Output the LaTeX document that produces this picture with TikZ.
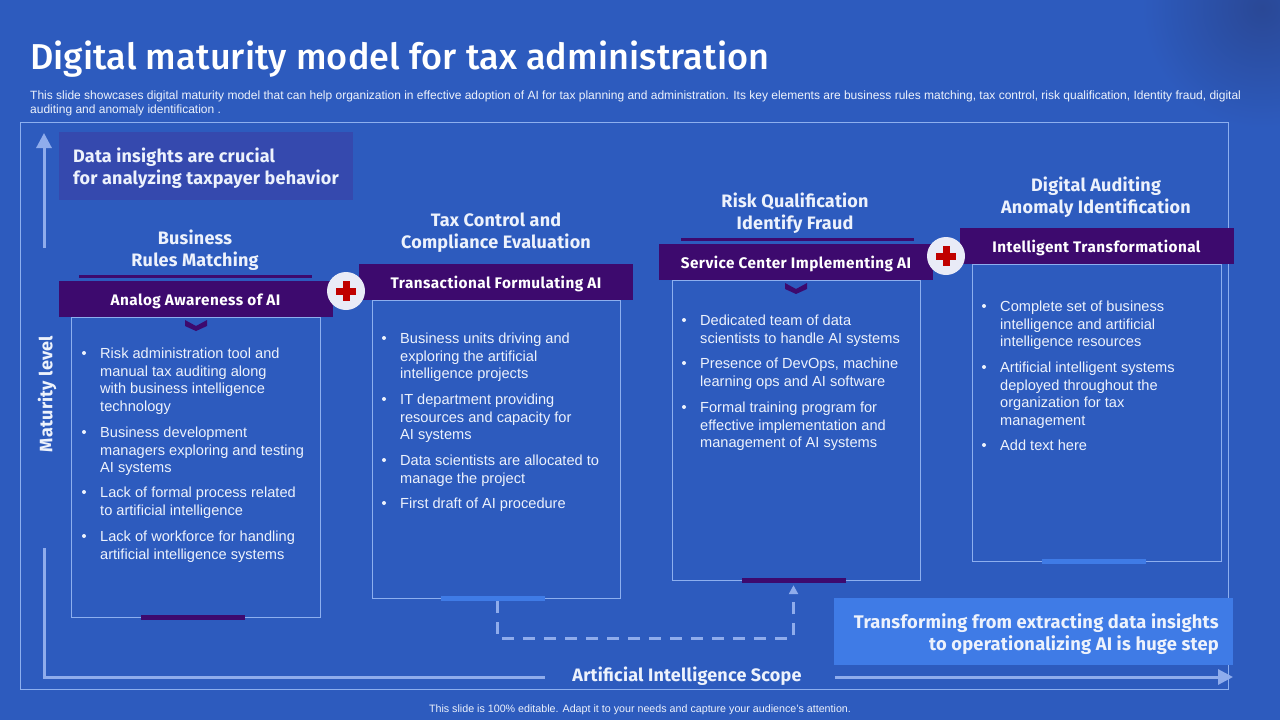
\documentclass[tikz,border=0pt]{standalone}
\usepackage{fontspec}
\setmainfont{Liberation Sans}
\newfontfamily\headfont[LetterSpace=1.2]{Fira Sans}
\newfontfamily\barfont[LetterSpace=3]{Fira Sans}
\newfontfamily\titlefont[LetterSpace=0.3,UprightFont={* Medium}]{Fira Sans}
\usepackage{xcolor}
\usepackage{tikz}
\usetikzlibrary{arrows.meta}
\usetikzlibrary{positioning}
\usetikzlibrary{calc}
\definecolor{slidebg}{HTML}{2D5BBE}
\definecolor{slidedark}{HTML}{2A4896}
\definecolor{panelline}{HTML}{8DAFEF}
\definecolor{axisline}{HTML}{8FACEC}
\definecolor{headpurple}{HTML}{3D0A6E}
\definecolor{lightblue}{HTML}{3F7BE6}
\definecolor{insightbg}{HTML}{3549AE}
\definecolor{palewhite}{HTML}{EDF2FC}
\definecolor{discfill}{HTML}{E9EBF7}
\definecolor{crossred}{HTML}{C00000}
\tikzset{
  panel/.style={draw=panelline,line width=0.8pt,inner sep=0pt},
  headbar/.style={fill=headpurple,text=white,minimum width=274pt,minimum height=36pt,inner sep=0pt,text height=13pt,text depth=0pt,font=\barfont\bfseries\fontsize{15.3}{17}\selectfont},
  stagetitle/.style={text=palewhite,align=center,inner sep=0pt,font=\headfont\bfseries\fontsize{18}{22}\selectfont},
  itemtext/.style={text=palewhite,align=left,anchor=north west,inner sep=0pt,font=\fontsize{14.6}{17.6}\selectfont},
  itemdot/.style={circle,fill=palewhite,minimum size=4pt,inner sep=0pt},
  footbar/.style={minimum width=104pt,minimum height=5pt,inner sep=0pt},
  plusdisc/.style={circle,fill=discfill,minimum size=38pt,inner sep=0pt},
  axis/.style={draw=axisline,line width=3pt},
  overline/.style={fill=headpurple,minimum width=233pt,minimum height=3pt,inner sep=0pt}
}
\newcommand{\pluscross}[1]{
  \fill[crossred] ($(#1)+(-3.5,-10)$) rectangle ($(#1)+(3.5,10)$);
  \fill[crossred] ($(#1)+(-10,-3.5)$) rectangle ($(#1)+(10,3.5)$);
}
\newcommand{\chevmark}[1]{
  \fill[headpurple] ($(#1)+(-11,-5)$) -- ($(#1)+(0,1)$) -- ($(#1)+(11,-5)$) -- ($(#1)+(11,1)$) -- ($(#1)+(0,6)$) -- ($(#1)+(-11,1)$) -- cycle;
}
\begin{document}
\begin{tikzpicture}[x=1pt,y=-1pt]
    \useasboundingbox[fill=slidebg] (0,0) rectangle (1280,720);

    \begin{scope}
        \clip (0,0) rectangle (1280,720);
        \shade[inner color=slidedark,outer color=slidebg] (1262,8) circle (120);
    \end{scope}

    \node[anchor=west,text=white,inner sep=0pt,font=\titlefont\fontsize{36}{40}\selectfont] (title) at (30,59) {Digital maturity model for tax administration};
    \node[anchor=north west,text=palewhite,align=left,inner sep=0pt,font=\fontsize{12}{14}\selectfont] (intro) at (30,91) {This slide showcases digital maturity model that can help organization in effective adoption of AI for tax planning and administration. Its key elements are business rules matching, tax control, risk qualification, Identity fraud, digital\\auditing and anomaly identification .};

    \node[panel,minimum width=1208.5pt,minimum height=567pt] (frame) at (624.5,406) {};

    % axes
    \coordinate (upfoot) at (44,248);
    \coordinate (uptip) at (44,133);
    \coordinate (corner) at (44,677);
    \coordinate (axtop) at (44,548);
    \coordinate (axleft) at (545,677);
    \coordinate (axright) at (835,677);
    \coordinate (axtip) at (1233,677);
    \draw[axis,-{Triangle[length=15pt,width=15pt]}] (upfoot) -- (uptip);
    \draw[axis] (axtop) -- (corner) -- (axleft);
    \draw[axis,-{Triangle[length=15pt,width=15pt]}] (axright) -- (axtip);
    \node[rotate=90,text=palewhite,inner sep=0pt,font=\headfont\bfseries\fontsize{18}{22}\selectfont] (ylabel) at (47,394) {Maturity level};
    \node[text=palewhite,inner sep=0pt,font=\headfont\bfseries\fontsize{18}{22}\selectfont] (xlabel) at (687,676) {Artificial Intelligence Scope};

    \node[fill=insightbg,minimum width=294pt,minimum height=68pt,inner sep=0pt] (insight) at (206,166) {};
    \node[anchor=west,text=palewhite,align=left,inner sep=0pt,font=\headfont\bfseries\fontsize{18}{22}\selectfont] (insighttext) at (73,168) {Data insights are crucial\\for analyzing taxpayer behavior};

    \node[fill=lightblue,minimum width=399pt,minimum height=67pt,inner sep=0pt] (callout) at (1033.5,631.5) {};
    \node[anchor=east,text=palewhite,align=right,inner sep=0pt,font=\headfont\bfseries\fontsize{18.3}{22}\selectfont] (callouttext) at (1219,634) {Transforming from extracting data insights\\to operationalizing AI is huge step};

    % stage boxes
    \node[panel,minimum width=249.5pt,minimum height=300pt] (box1) at (196,467) {};
    \node[panel,minimum width=247.5pt,minimum height=298pt] (box2) at (496.5,449) {};
    \node[panel,minimum width=248pt,minimum height=300pt] (box3) at (796.5,430) {};
    \node[panel,minimum width=248.5pt,minimum height=297pt] (box4) at (1096.75,412.5) {};

    \node[headbar] (head1) at (195.5,299) {Analog Awareness of AI};
    \node[headbar] (head2) at (496,282) {Transactional Formulating AI};
    \node[headbar] (head3) at (796,262) {Service Center Implementing AI};
    \node[headbar] (head4) at (1096.5,246) {Intelligent Transformational};

    \node[overline] (over1) at (195.5,276) {};
    \node[overline] (over3) at (797,239) {};

    \node[stagetitle] (title1) at (195,250) {Business\\Rules Matching};
    \node[stagetitle] (title2) at (496,233) {Tax Control and\\Compliance Evaluation};
    \node[stagetitle] (title3) at (795,213) {Risk Qualification\\Identify Fraud};
    \node[stagetitle] (title4) at (1096,197) {Digital Auditing\\Anomaly Identification};

    \coordinate (chev1) at (196,325);
    \coordinate (chev3) at (796,288);
    \chevmark{chev1}
    \chevmark{chev3}

    \node[plusdisc] (plus1) at (346,291) {};
    \node[plusdisc] (plus2) at (946,256) {};
    \pluscross{plus1}
    \pluscross{plus2}

    \node[footbar,fill=headpurple] (bar1) at (193,617) {};
    \node[footbar,fill=lightblue] (bar2) at (493,598.5) {};
    \node[footbar,fill=headpurple] (bar3) at (793.5,580) {};
    \node[footbar,fill=lightblue] (bar4) at (1093.5,561) {};

    \coordinate (dashturn) at (497,638);
    \draw[draw=axisline,line width=3pt,dash pattern=on 12pt off 9pt,shorten >=2.5pt,-{Triangle[length=9pt,width=9pt]}] ([xshift=4pt]bar2.south) -- (dashturn) -| (bar3.south);

    % stage 1
    \node[itemdot] (d11) at (84,353) {};
    \node[itemtext] (t11) at (100,348) {Risk administration tool and\\manual tax auditing along\\with business intelligence\\technology};
    \node[itemdot] (d12) at (84,432) {};
    \node[itemtext] (t12) at (100,427) {Business development\\managers exploring and testing\\AI systems};
    \node[itemdot] (d13) at (84,492) {};
    \node[itemtext] (t13) at (100,487) {Lack of formal process related\\to artificial intelligence};
    \node[itemdot] (d14) at (84,536) {};
    \node[itemtext] (t14) at (100,531) {Lack of workforce for handling\\artificial intelligence systems};

    % stage 2
    \node[itemdot] (d21) at (384,338) {};
    \node[itemtext] (t21) at (400,333) {Business units driving and\\exploring the artificial\\intelligence projects};
    \node[itemdot] (d22) at (384,399) {};
    \node[itemtext] (t22) at (400,394) {IT department providing\\resources and capacity for\\AI systems};
    \node[itemdot] (d23) at (384,460) {};
    \node[itemtext] (t23) at (400,455) {Data scientists are allocated to\\manage the project};
    \node[itemdot] (d24) at (384,503) {};
    \node[itemtext] (t24) at (400,498) {First draft of AI procedure};

    % stage 3
    \node[itemdot] (d31) at (684,320) {};
    \node[itemtext] (t31) at (700,315) {Dedicated team of data\\scientists to handle AI systems};
    \node[itemdot] (d32) at (684,363) {};
    \node[itemtext] (t32) at (700,358) {Presence of DevOps, machine\\learning ops and AI software};
    \node[itemdot] (d33) at (684,407) {};
    \node[itemtext] (t33) at (700,402) {Formal training program for\\effective implementation and\\management of AI systems};

    % stage 4
    \node[itemdot] (d41) at (984,306) {};
    \node[itemtext] (t41) at (1000,301) {Complete set of business\\intelligence and artificial\\intelligence resources};
    \node[itemdot] (d42) at (984,367) {};
    \node[itemtext] (t42) at (1000,362) {Artificial intelligent systems\\deployed throughout the\\organization for tax\\management};
    \node[itemdot] (d43) at (984,445) {};
    \node[itemtext] (t43) at (1000,440) {Add text here};

    \node[text=palewhite,inner sep=0pt,font=\fontsize{10.7}{13}\selectfont] (foot) at (640,709.5) {This slide is 100\% editable. Adapt it to your needs and capture your audience's attention.};

\end{tikzpicture}
\end{document}
